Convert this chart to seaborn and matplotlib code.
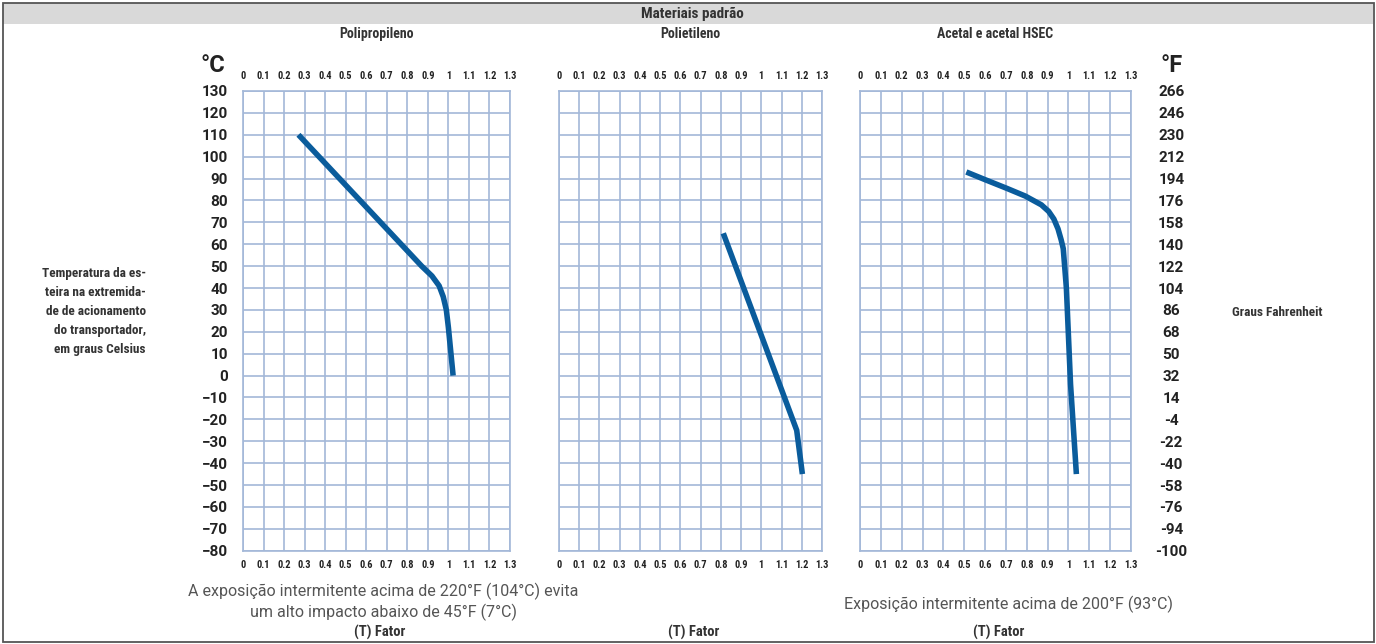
import matplotlib
matplotlib.use('Agg')
import matplotlib.pyplot as plt
import seaborn as sns
import pandas as pd
from matplotlib.patches import Rectangle

# Chart data
pp_fator = [0.27, 0.60, 0.87, 0.92, 0.955, 0.975, 0.99, 1.0, 1.023]
pp_temp = [110, 77, 50, 45.5, 41, 36, 30, 22, 0]
pe_fator = [0.812, 1.175, 1.203]
pe_temp = [65, -25, -45]
ac_fator = [0.51, 0.60, 0.705, 0.793, 0.87, 0.905, 0.93, 0.95, 0.965, 0.975, 0.99, 1.01, 1.038]
ac_temp = [93, 89.5, 85.5, 82, 78, 75, 71.5, 67, 62, 58, 40, -4, -45]

materiais = ['Polipropileno', 'Polietileno', 'Acetal e acetal HSEC']
fator_ticks = [0, 0.1, 0.2, 0.3, 0.4, 0.5, 0.6, 0.7, 0.8, 0.9, 1.0, 1.1, 1.2, 1.3]
fator_labels = ['0', '0.1', '0.2', '0.3', '0.4', '0.5', '0.6', '0.7', '0.8', '0.9', '1', '1.1', '1.2', '1.3']
celsius_ticks = [130, 120, 110, 100, 90, 80, 70, 60, 50, 40, 30, 20, 10, 0,
                 -10, -20, -30, -40, -50, -60, -70, -80]
fahrenheit_labels = ['266', '246', '230', '212', '194', '176', '158', '140', '122', '104', '86',
                     '68', '50', '32', '14', '-4', '-22', '-40', '-58', '-76', '-94', '-100']
notas = ['A exposição intermitente acima de 220°F (104°C) evita\num alto impacto abaixo de 45°F (7°C)',
         '',
         'Exposição intermitente acima de 200°F (93°C)']

sns.set_style('white')
plt.rcParams['font.family'] = ['Roboto', 'DejaVu Sans']
NARROW = ['Roboto Condensed', 'Roboto', 'DejaVu Sans']

W, H = 1376, 644
fig = plt.figure(figsize=(W / 100, H / 100), dpi=100)

def fx(x):
    return x / W

def fy(y):
    return 1 - y / H

# frame and header bar
fig.patches.append(Rectangle((fx(3), fy(24)), fx(1370), 21 / H, transform=fig.transFigure,
                             facecolor='#d9d9d9', edgecolor='none', zorder=0))
fig.patches.append(Rectangle((fx(2.5), fy(641.5)), fx(1371), 639 / H, transform=fig.transFigure,
                             facecolor='none', edgecolor='#555555', linewidth=1.3, zorder=1))
fig.text(fx(692), fy(14), 'Materiais padrão', ha='center', va='center', fontsize=11,
         fontweight='bold', color='#333333', family=NARROW)

GRID = '#a3b8d8'
LINE = '#0a5c9c'
panels = [(243, 510, pp_fator, pp_temp), (559, 822, pe_fator, pe_temp), (860, 1131, ac_fator, ac_temp)]
y_top, y_bot = 91, 550.7

axes = []
for i, (x0, x1, fat, temp) in enumerate(panels):
    ax = fig.add_axes([fx(x0), fy(y_bot), (x1 - x0) / W, (y_bot - y_top) / H])
    df = pd.DataFrame({'fator': fat, 'temp': temp})
    sns.lineplot(data=df, x='fator', y='temp', sort=False, estimator=None, ax=ax,
                 color=LINE, linewidth=4, solid_capstyle='butt', zorder=3)
    ax.set_xlim(0, 1.3)
    ax.set_ylim(-80, 130)
    ax.set_xticks(fator_ticks)
    ax.set_xticklabels(fator_labels)
    ax.set_yticks(celsius_ticks)
    ax.grid(True, color=GRID, linewidth=1.2)
    for s in ax.spines.values():
        s.set_color(GRID)
        s.set_linewidth(1.2)
    ax.set_xlabel('')
    ax.set_ylabel('')
    ax.tick_params(axis='x', length=0, top=False, labeltop=True, labelbottom=True,
                   labelsize=7.5, colors='#222222', pad=7)
    for lab in ax.get_xticklabels():
        lab.set_fontweight('bold')
        lab.set_family(NARROW)
    if i == 0:
        ax.tick_params(axis='y', length=0, labelsize=11, colors='#222222', pad=11)
        for lab in ax.get_yticklabels():
            lab.set_fontweight('bold')
    else:
        ax.tick_params(axis='y', length=0, labelleft=False)
    cx = (x0 + x1) / 2
    fig.text(fx(cx), fy(34), materiais[i], ha='center', va='center', fontsize=10,
             fontweight='bold', color='#333333', family=NARROW)
    fig.text(fx(cx + 3), fy(632), '(T) Fator', ha='center', va='center', fontsize=10.5,
             fontweight='bold', color='#333333', family=NARROW)
    axes.append(ax)

# Fahrenheit scale on the right
axr = axes[2].twinx()
axr.set_ylim(-80, 130)
axr.set_yticks(celsius_ticks)
axr.set_yticklabels(fahrenheit_labels)
axr.tick_params(axis='y', length=0, labelsize=11, colors='#222222', pad=29)
for lab in axr.get_yticklabels():
    lab.set_horizontalalignment('center')
    lab.set_fontweight('bold')
for s in axr.spines.values():
    s.set_visible(False)

fig.text(fx(213), fy(65), '°C', ha='center', va='center', fontsize=17, fontweight='bold', color='#222222')
fig.text(fx(1172), fy(65), '°F', ha='center', va='center', fontsize=17, fontweight='bold', color='#222222')

fig.text(fx(146), fy(311),
         'Temperatura da es-\nteira na extremida-\nde de acionamento\ndo transportador,\nem graus Celsius',
         ha='right', va='center', fontsize=9.5, fontweight='bold', color='#333333',
         family=NARROW, linespacing=1.6)
fig.text(fx(1277), fy(312), 'Graus Fahrenheit', ha='center', va='center', fontsize=9.5,
         fontweight='bold', color='#333333', family=NARROW)

fig.text(fx(383), fy(602), notas[0], ha='center', va='center', fontsize=11.5,
         color='#555555', linespacing=1.25)
fig.text(fx(1008), fy(604), notas[2], ha='center', va='center', fontsize=11.5,
         color='#555555')

fig.savefig('out.png', dpi=100)
